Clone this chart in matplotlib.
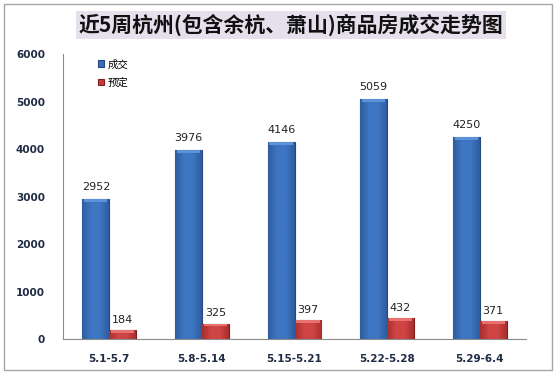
import numpy as np
import matplotlib
matplotlib.use('Agg')
import matplotlib.pyplot as plt
from matplotlib.patches import Rectangle
from matplotlib.colors import LinearSegmentedColormap

plt.rcParams['font.family'] = ['Noto Sans CJK SC', 'DejaVu Sans']

# 数据
weeks = ['5.1-5.7', '5.8-5.14', '5.15-5.21', '5.22-5.28', '5.29-6.4']
deal = [2952, 3976, 4146, 5059, 4250]   # 成交
book = [184, 325, 397, 432, 371]        # 预定
yticks = [0, 1000, 2000, 3000, 4000, 5000, 6000]
title = '近5周杭州(包含余杭、萧山)商品房成交走势图'

fig = plt.figure(figsize=(5.58, 3.73), dpi=100)
ax = fig.add_axes([63/558, 1-339/373, 463/558, 285/373])

x = np.arange(len(weeks))
w = 0.29
b1 = ax.bar(x - w/2, deal, w, color='#3A6DB4', edgecolor='#24477E', linewidth=0.8, label='成交', zorder=2)
b2 = ax.bar(x + w/2, book, w, color='#C63C3C', edgecolor='#7E1E1E', linewidth=0.8, label='预定', zorder=2)

# 给柱子加一点渐变,模仿excel的立体效果
def shade(bars, c_edge, c_mid, c_top):
    cmap = LinearSegmentedColormap.from_list('g', [c_edge, c_mid, c_mid, c_edge])
    grad = np.linspace(0, 1, 64).reshape(1, -1)
    for p in bars:
        x0, y0 = p.get_x(), p.get_y()
        x1, y1 = x0 + p.get_width(), y0 + p.get_height()
        im = ax.imshow(grad, cmap=cmap, extent=[x0, x1, y0, y1], aspect='auto', zorder=2.1)
        im.set_clip_path(p)
        top = Rectangle((x0 + 0.02, y1 - 60), x1 - x0 - 0.04, 60, color=c_top, zorder=2.2, lw=0)
        ax.add_patch(top)

shade(b1, '#2E5C9E', '#3E76C2', '#5B92D8')
shade(b2, '#A82E2E', '#D04444', '#E77070')

for p, v in zip(b1, deal):
    ax.annotate(str(v), (p.get_x() + p.get_width()/2, v), xytext=(0, 5), textcoords='offset points',
                ha='center', va='bottom', fontsize=8, color='#222222', family='DejaVu Sans')
for p, v in zip(b2, book):
    ax.annotate(str(v), (p.get_x() + p.get_width()/2, v), xytext=(0, 4), textcoords='offset points',
                ha='center', va='bottom', fontsize=8, color='#222222', family='DejaVu Sans')

ax.set_xlim(-0.5, len(weeks) - 0.5)
ax.set_ylim(0, 6000)
ax.set_yticks(yticks)
ax.set_yticklabels([str(t) for t in yticks], fontsize=7.5, fontweight='bold', color='#1F2A44', family='DejaVu Sans')
ax.set_xticks(x)
ax.set_xticklabels(weeks, fontsize=7.5, fontweight='bold', color='#1F2A44', family='DejaVu Sans')
ax.tick_params(axis='y', length=0, pad=13)
ax.tick_params(axis='x', length=0, pad=11)
for s in ['top', 'right']:
    ax.spines[s].set_visible(False)
ax.spines['left'].set_color('#8C8C8C')
ax.spines['bottom'].set_color('#8C8C8C')

leg = ax.legend(loc='upper left', bbox_to_anchor=(0.055, 1.015), frameon=False, fontsize=7.5,
                handlelength=0.6, handleheight=0.6, handletextpad=0.3, labelspacing=0.8)

# 标题框
fig.text(291/558, 1-25/373, title, ha='center', va='center', fontsize=15, fontweight='bold', color='#111111',
         bbox=dict(boxstyle='square,pad=0.12', facecolor='#E6E0EC', edgecolor='none'))

# 外框
fig.patches.append(Rectangle((4/558, 3/373), 548/558, 366/373, transform=fig.transFigure,
                             fill=False, edgecolor='#A6A6A6', linewidth=1))

fig.savefig('out.png', dpi=100)
